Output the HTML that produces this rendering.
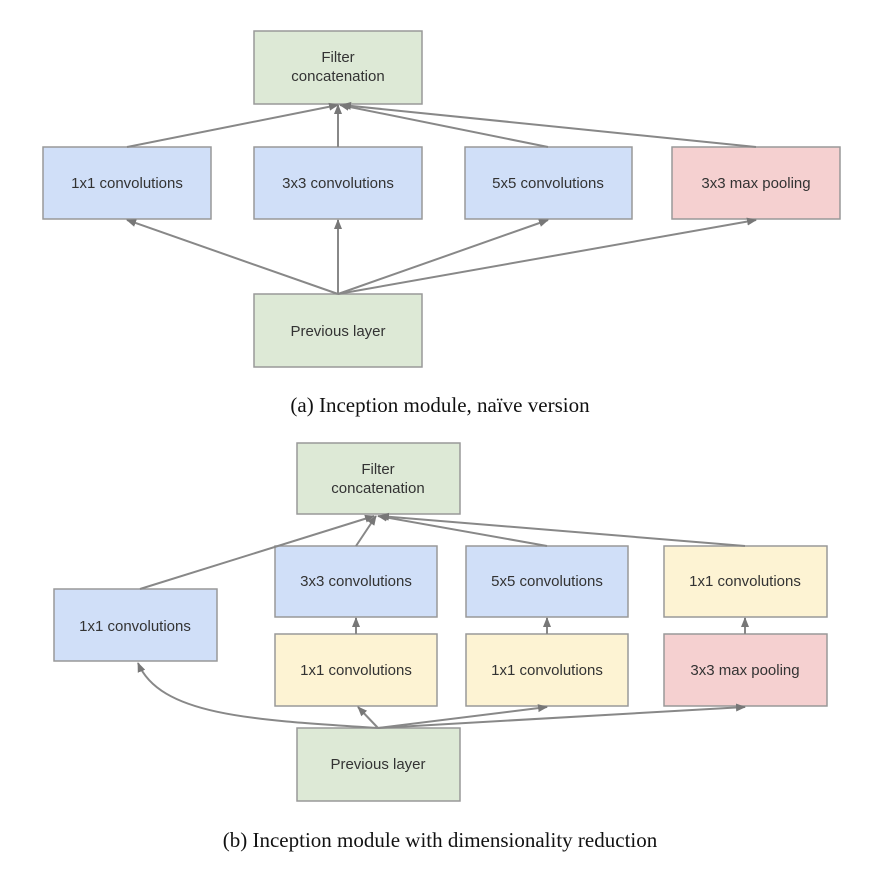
<!DOCTYPE html>
<html><head><meta charset="utf-8"><style>
html,body{margin:0;padding:0;background:#fff;}
svg text{font-family:"Liberation Sans",sans-serif;font-size:15px;fill:#333;text-anchor:middle;}
svg text.cap{font-family:"Liberation Serif",serif;font-size:21px;fill:#111;}
</style></head><body>
<svg width="888" height="874" viewBox="0 0 888 874" xmlns="http://www.w3.org/2000/svg">
<defs><marker id="a" markerWidth="10" markerHeight="10" refX="9" refY="5" orient="auto" markerUnits="userSpaceOnUse"><path d="M0,1 L10,5 L0,9 z" fill="#777"/></marker></defs>
<g stroke="#999" stroke-width="1.5">
<rect x="254" y="31" width="168" height="73" fill="#dde9d6"/>
<rect x="43" y="147" width="168" height="72" fill="#d0dff8"/>
<rect x="254" y="147" width="168" height="72" fill="#d0dff8"/>
<rect x="465" y="147" width="167" height="72" fill="#d0dff8"/>
<rect x="672" y="147" width="168" height="72" fill="#f5d0d0"/>
<rect x="254" y="294" width="168" height="73" fill="#dde9d6"/>
<rect x="297" y="443" width="163" height="71" fill="#dde9d6"/>
<rect x="275" y="546" width="162" height="71" fill="#d0dff8"/>
<rect x="466" y="546" width="162" height="71" fill="#d0dff8"/>
<rect x="664" y="546" width="163" height="71" fill="#fdf3d3"/>
<rect x="54" y="589" width="163" height="72" fill="#d0dff8"/>
<rect x="275" y="634" width="162" height="72" fill="#fdf3d3"/>
<rect x="466" y="634" width="162" height="72" fill="#fdf3d3"/>
<rect x="664" y="634" width="163" height="72" fill="#f5d0d0"/>
<rect x="297" y="728" width="163" height="73" fill="#dde9d6"/>
</g>
<g stroke="#888" stroke-width="2" fill="none" marker-end="url(#a)">
<line x1="127" y1="147" x2="338" y2="105"/>
<line x1="338" y1="147" x2="338" y2="105"/>
<line x1="548" y1="147" x2="340" y2="105"/>
<line x1="756" y1="147" x2="342" y2="105"/>
<line x1="338" y1="294" x2="127" y2="220"/>
<line x1="338" y1="294" x2="338" y2="220"/>
<line x1="338" y1="294" x2="548" y2="220"/>
<line x1="338" y1="294" x2="756" y2="220"/>
<line x1="140" y1="589" x2="374" y2="516"/>
<line x1="356" y1="546" x2="376" y2="516"/>
<line x1="547" y1="546" x2="378" y2="516"/>
<line x1="745" y1="546" x2="380" y2="516"/>
<line x1="356" y1="634" x2="356" y2="618"/>
<line x1="547" y1="634" x2="547" y2="618"/>
<line x1="745" y1="634" x2="745" y2="618"/>
<path d="M378,728 C250,720 160,715 138,663"/>
<line x1="378" y1="728" x2="358" y2="707"/>
<line x1="378" y1="728" x2="547" y2="707"/>
<line x1="378" y1="728" x2="745" y2="707"/>
</g>
<text x="338" y="62">Filter</text><text x="338" y="81">concatenation</text>
<text x="127" y="188">1x1 convolutions</text>
<text x="338" y="188">3x3 convolutions</text>
<text x="548" y="188">5x5 convolutions</text>
<text x="756" y="188">3x3 max pooling</text>
<text x="338" y="336">Previous layer</text>
<text class="cap" x="440" y="412">(a)  Inception module, naïve version</text>
<text x="378" y="474">Filter</text><text x="378" y="493">concatenation</text>
<text x="356" y="586">3x3 convolutions</text>
<text x="547" y="586">5x5 convolutions</text>
<text x="745" y="586">1x1 convolutions</text>
<text x="135" y="631">1x1 convolutions</text>
<text x="356" y="675">1x1 convolutions</text>
<text x="547" y="675">1x1 convolutions</text>
<text x="745" y="675">3x3 max pooling</text>
<text x="378" y="769">Previous layer</text>
<text class="cap" x="440" y="847">(b)  Inception module with dimensionality reduction</text>
</svg>
</body></html>
